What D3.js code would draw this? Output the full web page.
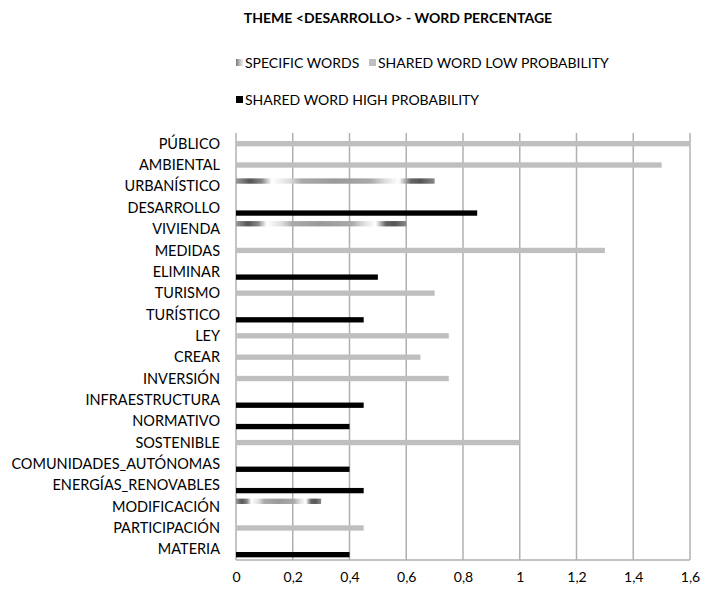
<!DOCTYPE html>
<html><head><meta charset="utf-8">
<script src="https://cdn.jsdelivr.net/npm/d3@7"></script>
<style>body{margin:0;background:#fff}svg{display:block}text{font-family:Lato,"Open Sans",sans-serif;fill:#000}</style>
</head><body><svg id="c" width="704" height="591"></svg>
<script>
const categories = ["PÚBLICO","AMBIENTAL","URBANÍSTICO","DESARROLLO","VIVIENDA","MEDIDAS","ELIMINAR","TURISMO","TURÍSTICO","LEY","CREAR","INVERSIÓN","INFRAESTRUCTURA","NORMATIVO","SOSTENIBLE","COMUNIDADES_AUTÓNOMAS","ENERGÍAS_RENOVABLES","MODIFICACIÓN","PARTICIPACIÓN","MATERIA"];
const seriesNames = ["SPECIFIC WORDS","SHARED WORD LOW PROBABILITY","SHARED WORD HIGH PROBABILITY"];
const specificWords = [0,0,0.7,0,0.6,0,0,0,0,0,0,0,0,0,0,0,0,0.3,0,0];
const sharedLow    = [1.6,1.5,0,0,0,1.3,0,0.7,0,0.75,0.65,0.75,0,0,1.0,0,0,0,0.45,0];
const sharedHigh   = [0,0,0,0.85,0,0,0.5,0,0.45,0,0,0,0.45,0.4,0,0.4,0.45,0,0,0.4];
const xTicks = [0,0.2,0.4,0.6,0.8,1,1.2,1.4,1.6];
const xTickLabels = ["0","0,2","0,4","0,6","0,8","1","1,2","1,4","1,6"];
const title = "THEME <DESARROLLO> - WORD PERCENTAGE";

const svg = d3.select("#c");
const defs = svg.append("defs");
const g1 = defs.append("linearGradient").attr("id","spec").attr("x1","0").attr("x2","1").attr("y1","0").attr("y2","0");
[[0,"#999"],[0.07,"#555"],[0.13,"#888"],[0.18,"#fff"],[0.27,"#ddd"],[0.33,"#aaa"],[0.5,"#999"],[0.68,"#aaa"],[0.75,"#ddd"],[0.82,"#fff"],[0.88,"#666"],[0.93,"#555"],[1,"#888"]]
  .forEach(([o,c])=>g1.append("stop").attr("offset",o).attr("stop-color",c));
const g2 = defs.append("linearGradient").attr("id","specLeg").attr("x1","0").attr("x2","1").attr("y1","0").attr("y2","0");
[[0,"#777"],[0.5,"#bbb"],[1,"#eee"]].forEach(([o,c])=>g2.append("stop").attr("offset",o).attr("stop-color",c));

const colors = ["url(#spec)","#bfbfbf","#000"];
const legendColors = ["url(#specLeg)","#bfbfbf","#000"];

const m = {left:236, right:690, top:133, bottom:560};
const x = d3.scaleLinear().domain([0,1.6]).range([m.left,m.right]);
const y = d3.scaleBand().domain(categories).range([m.top,m.bottom]).paddingInner(0).paddingOuter(0);
const sub = d3.scaleBand().domain([0,1,2]).range([y.bandwidth()*0.125, y.bandwidth()*0.875]);

svg.append("text").attr("x",398).attr("y",23).attr("text-anchor","middle")
  .attr("font-size",14).attr("font-weight","bold").text(title);

const grid = svg.append("g");
grid.selectAll("line").data(xTicks).join("line")
  .attr("x1",d=>x(d)).attr("x2",d=>x(d)).attr("y1",m.top).attr("y2",m.bottom)
  .attr("stroke","#b0b0b0").attr("stroke-width",1.5);
svg.append("line").attr("x1",m.left).attr("x2",m.right).attr("y1",m.bottom).attr("y2",m.bottom)
  .attr("stroke","#b0b0b0").attr("stroke-width",1.5);

const seriesVals = [specificWords, sharedLow, sharedHigh];
seriesVals.forEach((vals,si)=>{
  svg.append("g").selectAll("rect").data(categories.map((c,i)=>({c,v:vals[i]})).filter(d=>d.v>0)).join("rect")
    .attr("x",x(0)).attr("width",d=>x(d.v)-x(0))
    .attr("y",d=>y(d.c)+sub(si)).attr("height",sub.bandwidth())
    .attr("fill",colors[si]);
});

svg.append("g").selectAll("text").data(categories).join("text")
  .attr("x",220).attr("y",d=>y(d)+y.bandwidth()/2).attr("dy","0.35em")
  .attr("text-anchor","end").attr("font-size",14.5).text(d=>d);

const xa = d3.axisBottom(x).tickValues(xTicks).tickFormat((d,i)=>xTickLabels[i]).tickSize(0).tickPadding(12);
const ga = svg.append("g").attr("transform",`translate(0,${m.bottom})`).call(xa);
ga.select(".domain").remove();
ga.selectAll("text").attr("font-size",14).style("font-family","Lato,'Open Sans',sans-serif");

const leg = [{i:0,x:236,y:63},{i:1,x:369,y:63},{i:2,x:236,y:100}];
leg.forEach(l=>{
  svg.append("rect").attr("x",l.x).attr("y",l.y-4).attr("width",7).attr("height",7).attr("fill",legendColors[l.i]);
  svg.append("text").attr("x",l.x+9).attr("y",l.y).attr("dy","0.35em").attr("font-size",14).text(seriesNames[l.i]);
});
</script></body></html>
